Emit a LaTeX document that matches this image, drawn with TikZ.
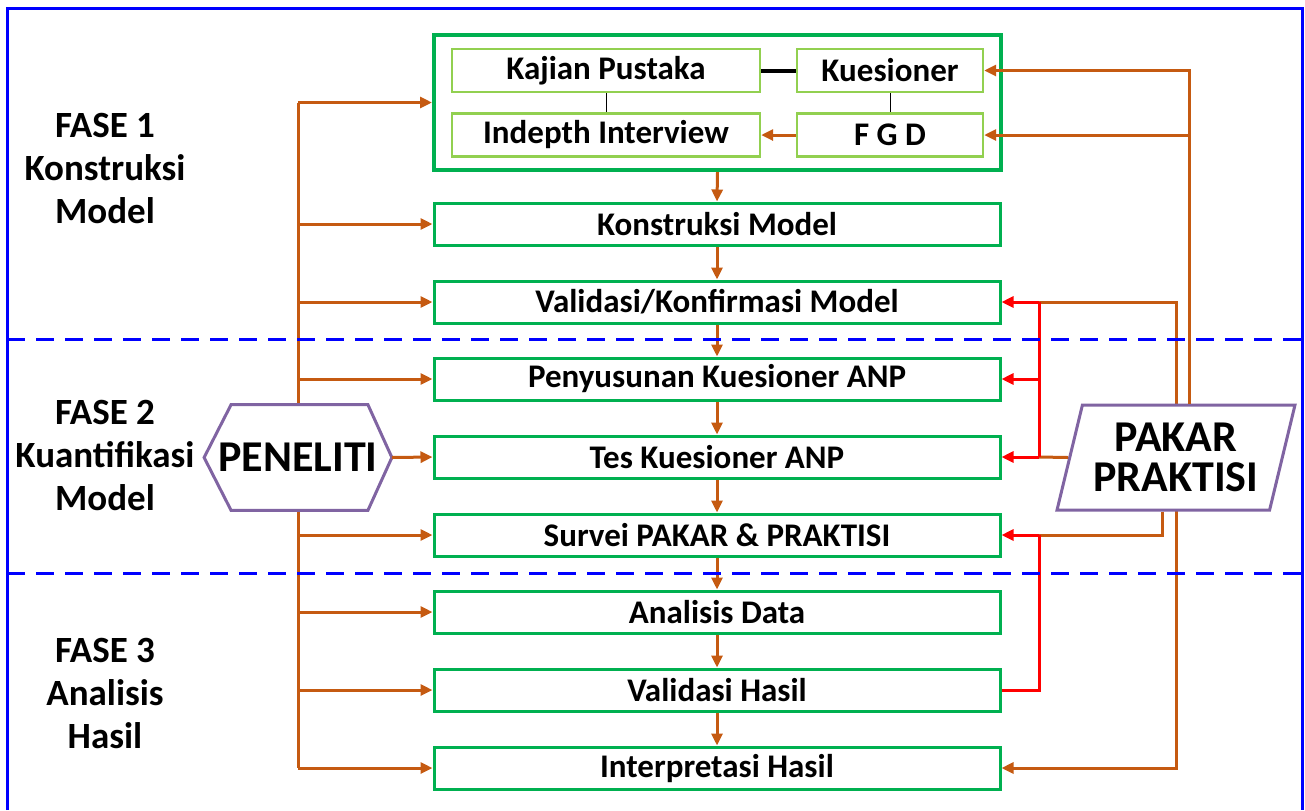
\documentclass[tikz,border=0pt]{standalone}
\usepackage{fontspec}
\setmainfont{Carlito}
\usetikzlibrary{arrows.meta,shapes.geometric,backgrounds}
\definecolor{boxgreen}{RGB}{0,176,80}
\definecolor{litgreen}{RGB}{146,208,80}
\definecolor{arrorange}{RGB}{197,90,17}
\definecolor{actpurple}{RGB}{128,100,162}
\tikzset{
  stepbox/.style={draw=boxgreen,line width=1.5pt,fill=white,inner sep=0pt,
    minimum width=283pt,minimum height=21pt,font=\fontsize{16.5}{19}\selectfont\bfseries},
  subbox/.style={draw=litgreen,line width=1.2pt,fill=white,inner sep=0pt,
    minimum height=21.5pt,font=\fontsize{16.5}{19}\selectfont\bfseries},
  fase/.style={align=center,font=\fontsize{18.5}{21.5}\selectfont\bfseries},
  actor/.style={inner sep=0pt,font=\fontsize{22}{20}\selectfont\bfseries,align=center},
  oline/.style={draw=arrorange,line width=1.5pt},
  oarr/.style={oline,-{Triangle[length=6pt,width=5.5pt]}},
  rline/.style={draw=red,line width=1.5pt},
  rarr/.style={rline,-{Triangle[length=6pt,width=5.5pt]}},
  phaseline/.style={draw=blue,line width=1.5pt,dash pattern=on 9pt off 5.5pt}
}
\begin{document}
\begin{tikzpicture}[x=0.5pt,y=-0.5pt]
\useasboundingbox (0,0) rectangle (1305,810);
\draw[blue,line width=1.5pt] (7,810) -- (7,8) -- (1302,8) -- (1302,810);
% fase labels
\node[fase] (f1) at (105,168) {FASE 1\\Konstruksi\\Model};
\node[fase] (f2) at (105,455) {FASE 2\\Kuantifikasi\\Model};
\node[fase] (f3) at (105,693) {FASE 3\\Analisis\\Hasil};
% literature block
\node[draw=boxgreen,line width=2pt,fill=white,minimum width=283.5pt,minimum height=67.5pt] (lit) at (717.5,102.5) {};
\node[subbox,minimum width=154pt] (kaj) at (606,70.5) {Kajian Pustaka};
\node[subbox,minimum width=93pt] (kues) at (890,70.5) {Kuesioner};
\node[subbox,minimum width=154pt] (ind) at (606,135) {Indepth Interview};
\node[subbox,minimum width=93pt] (fgd) at (890,135) {F G D};
\draw[line width=2pt] (kaj.east) -- (kues.west);
\draw[line width=0.5pt] (kaj.south) -- (ind.north);
\draw[line width=0.5pt] (kues.south) -- (fgd.north);
\draw[oarr] (fgd.west) -- (ind.east);
% steps
\node[stepbox] (kons) at (717,224) {Konstruksi Model};
\node[stepbox] (vkm) at (717,302) {Validasi/Konfirmasi Model};
\node[stepbox] (pkanp) at (717,379) {Penyusunan Kuesioner ANP};
\node[stepbox] (tes) at (717,457) {Tes Kuesioner ANP};
\node[stepbox] (svy) at (717,535) {Survei PAKAR \& PRAKTISI};
\node[stepbox] (ad) at (717,612) {Analisis Data};
\node[stepbox] (vh) at (717,690) {Validasi Hasil};
\node[stepbox] (intp) at (717,768) {Interpretasi Hasil};
\draw[oarr] (lit.south) -- (kons.north);
\draw[oarr] (kons.south) -- (vkm.north);
\draw[oarr] (vkm.south) -- (pkanp.north);
\draw[oarr] (pkanp.south) -- (tes.north);
\draw[oarr] (tes.south) -- (svy.north);
\draw[oarr] (svy.south) -- (ad.north);
\draw[oarr] (ad.south) -- (vh.north);
\draw[oarr] (vh.south) -- (intp.north);
% actors
\node[actor,minimum width=93.5pt,minimum height=52.5pt] (pen) at (298,457.5) {PENELITI};
\draw[draw=actpurple,line width=1.5pt,fill=white] ([xshift=13.5pt]pen.north west) -- ([xshift=-12pt]pen.north east)
  -- (pen.east) -- ([xshift=-12pt]pen.south east) -- ([xshift=13.5pt]pen.south west) -- (pen.west) -- cycle;
\node[actor] at (pen) {PENELITI};
\node[actor,trapezium,trapezium left angle=72,trapezium right angle=108,trapezium stretches=true,
  draw=actpurple,line width=1.5pt,fill=white,minimum width=119pt,minimum height=52.5pt] (pak) at (1176,457.5) {PAKAR\\PRAKTISI};
\coordinate (rbus) at (1039,457);
% peneliti side
\begin{scope}[on background layer]
\draw[oline] (pen |- lit.west) -- (pen |- intp.west);
\draw[oline] (pak.center) |- (rbus |- vkm.east);
\draw[oarr] (pak.center) |- (intp.east);
\end{scope}
\foreach \b in {lit,kons,vkm,pkanp,svy,ad,vh,intp}
  \draw[oarr] (pen |- \b.west) -- (\b.west);
\draw[oarr] (pen.east) -- (tes.west);
% pakar side
\draw[oarr] (pak.top side) |- (kues.east);
\draw[oarr] (pak.top side |- fgd.east) -- (fgd.east);
\draw[oline] (pak.left side) -- (rbus);
\draw[oline] (pak.bottom side) |- (rbus |- svy.east);
\draw[rline] (rbus |- vkm.east) -- (rbus);
\draw[rarr] (rbus |- vkm.east) -- (vkm.east);
\draw[rarr] (rbus |- pkanp.east) -- (pkanp.east);
\draw[rarr] (rbus) -- (tes.east);
\draw[rline] (vh.east) -| (rbus |- svy.east);
\draw[rarr] (rbus |- svy.east) -- (svy.east);
\draw[phaseline] (7,339) -- (1302,339);
\draw[phaseline] (7,573) -- (1302,573);
\end{tikzpicture}
\end{document}
